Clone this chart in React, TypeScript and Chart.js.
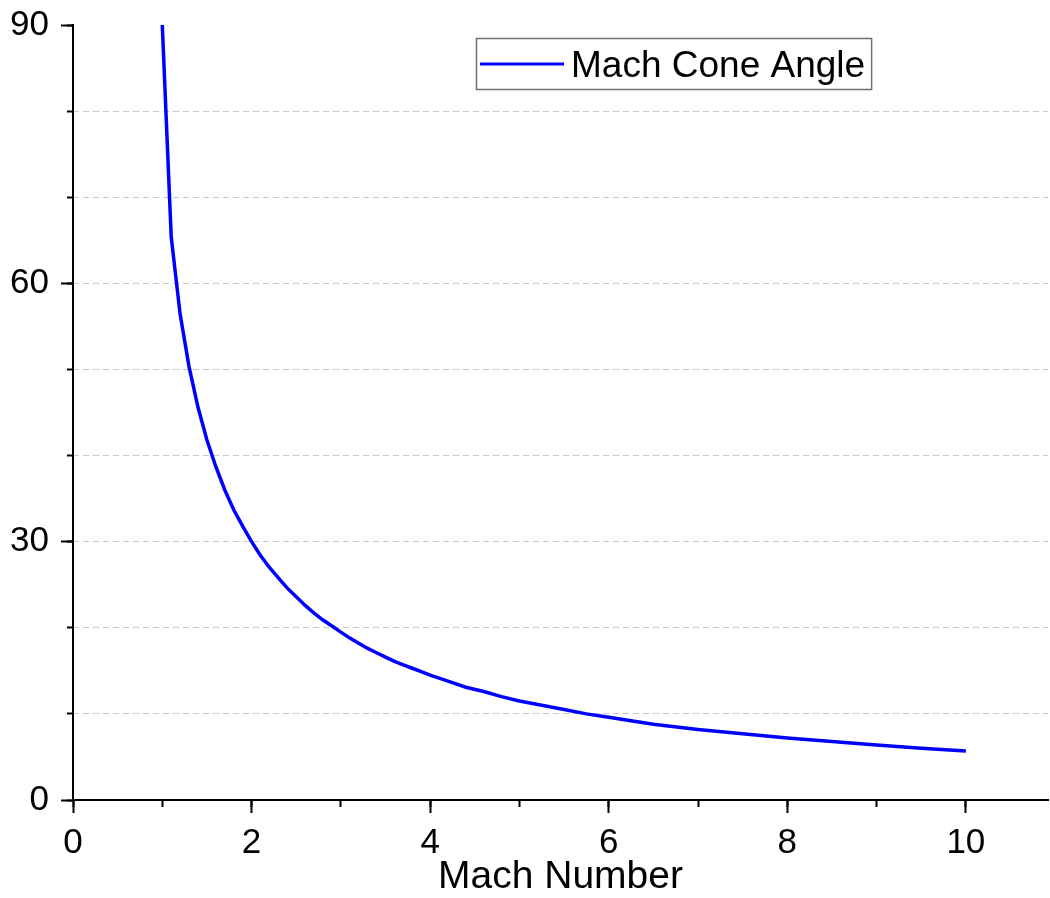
import React, { useEffect, useRef } from 'react';
import { Chart, registerables } from 'chart.js';

Chart.register(...registerables);

// Mach number (x) and cone angle in degrees (y)
const machNumbers = [
  1.0, 1.1, 1.2, 1.3, 1.4, 1.5, 1.6, 1.7, 1.8, 1.9,
  2.0, 2.1, 2.2, 2.3, 2.4, 2.5, 2.6, 2.7, 2.8, 2.9,
  3.0, 3.1, 3.2, 3.3, 3.4, 3.5, 3.6, 3.7, 3.8, 3.9,
  4.0, 4.2, 4.4, 4.6, 4.8, 5.0, 5.25, 5.5, 5.75, 6.0,
  6.5, 7.0, 7.5, 8.0, 8.5, 9.0, 9.5, 10.0,
];
const coneAngles = [
  90.0, 65.4, 56.4, 50.3, 45.6, 41.8, 38.7, 36.0, 33.7, 31.8,
  30.0, 28.4, 27.0, 25.8, 24.6, 23.6, 22.6, 21.7, 20.9, 20.2,
  19.5, 18.8, 18.2, 17.6, 17.1, 16.6, 16.1, 15.7, 15.3, 14.9,
  14.5, 13.8, 13.1, 12.6, 12.0, 11.5, 11.0, 10.5, 10.0, 9.6,
  8.8, 8.2, 7.7, 7.2, 6.8, 6.4, 6.0, 5.7,
];

const seriesLabel = 'Mach Cone Angle';
const xAxisTitle = 'Mach Number';
const xMin = 0;
const xMax = 10.92;
const xMajorStep = 2;
const xMinorStep = 1;
const yMin = 0;
const yMax = 90;
const yMajorStep = 30;
const yMinorStep = 10;

const FONT = 'Arial, "Liberation Sans", sans-serif';

const legendBoxPlugin = {
  id: 'legendBoxPlugin',
  afterDraw(chart: any) {
    const { ctx, chartArea } = chart;
    const ds = chart.data.datasets[0];
    const fontSize = 37;
    ctx.save();
    ctx.font = `${fontSize}px ${FONT}`;
    const tw = ctx.measureText(ds.label).width;
    const left = chartArea.left + 403;
    const top = chartArea.top + 13;
    const lineLen = 84;
    const w = 4 + lineLen + 7 + tw + 6;
    const h = 51;
    ctx.fillStyle = '#ffffff';
    ctx.fillRect(left, top, w, h);
    ctx.strokeStyle = '#707070';
    ctx.lineWidth = 1.5;
    ctx.strokeRect(left + 0.5, top + 0.5, w, h);
    ctx.strokeStyle = ds.borderColor;
    ctx.lineWidth = 3;
    ctx.beginPath();
    ctx.moveTo(left + 4, top + 26);
    ctx.lineTo(left + 4 + lineLen, top + 26);
    ctx.stroke();
    ctx.fillStyle = '#000000';
    ctx.textBaseline = 'alphabetic';
    ctx.textAlign = 'left';
    ctx.fillText(ds.label, left + 4 + lineLen + 7, top + 39);
    ctx.restore();
  },
};

export default function App() {
  const canvasRef = useRef<HTMLCanvasElement | null>(null);

  useEffect(() => {
    document.body.style.margin = '0';
    const canvas = canvasRef.current;
    if (!canvas) return;
    const points = machNumbers.map((m, i) => ({ x: m, y: coneAngles[i] }));

    const chart = new Chart(canvas, {
      type: 'line',
      data: {
        datasets: [
          {
            label: seriesLabel,
            data: points,
            borderColor: '#0000ff',
            backgroundColor: '#0000ff',
            borderWidth: 3.5,
            pointRadius: 0,
            fill: false,
            tension: 0,
            xAxisID: 'x',
            yAxisID: 'y',
          },
        ],
      },
      options: {
        responsive: false,
        animation: false,
        events: [],
        layout: { padding: { top: 25, right: 2, left: 0, bottom: 0 } },
        plugins: {
          legend: { display: false },
          tooltip: { enabled: false },
        },
        scales: {
          x: {
            type: 'linear',
            position: 'bottom',
            min: xMin,
            max: xMax,
            weight: 1,
            ticks: {
              stepSize: xMajorStep,
              includeBounds: false,
              autoSkip: false,
              maxRotation: 0,
              color: '#000',
              padding: 9,
              font: { size: 35, family: FONT },
            },
            grid: {
              drawOnChartArea: false,
              tickLength: 13,
              tickColor: '#000',
              tickWidth: 2,
            },
            border: { color: '#000', width: 2 },
            title: {
              display: true,
              text: xAxisTitle,
              color: '#000',
              padding: 0,
              font: { size: 39, family: FONT, lineHeight: 1.05 },
            },
            afterFit: (s: any) => {
              s.height = 98;
              s.paddingLeft = 0;
              s.paddingRight = 0;
            },
          },
          xMinor: {
            type: 'linear',
            position: 'bottom',
            min: xMin,
            max: xMax,
            weight: 0,
            ticks: { stepSize: xMinorStep, includeBounds: false, display: false, autoSkip: false },
            grid: {
              drawOnChartArea: false,
              tickLength: 7,
              tickColor: '#000',
              tickWidth: 2,
            },
            border: { display: false },
            afterFit: (s: any) => {
              s.height = 0;
              s.paddingLeft = 0;
              s.paddingRight = 0;
            },
          },
          y: {
            type: 'linear',
            position: 'left',
            min: yMin,
            max: yMax,
            weight: 1,
            ticks: {
              stepSize: yMajorStep,
              includeBounds: false,
              color: '#000',
              padding: 12,
              font: { size: 35, family: FONT },
            },
            grid: {
              drawOnChartArea: false,
              tickLength: 12,
              tickColor: '#000',
              tickWidth: 2,
            },
            border: { color: '#000', width: 2 },
            afterFit: (s: any) => {
              s.width = 73;
              s.paddingTop = 0;
              s.paddingBottom = 0;
            },
          },
          yMinor: {
            type: 'linear',
            position: 'left',
            min: yMin,
            max: yMax,
            weight: 0,
            ticks: { stepSize: yMinorStep, includeBounds: false, display: false },
            grid: {
              drawOnChartArea: true,
              color: (c: any) =>
                c.tick && (c.tick.value === yMin || c.tick.value === yMax)
                  ? 'rgba(0,0,0,0)'
                  : '#c8c8c8',
              lineWidth: 1,
              tickLength: 6,
              tickColor: '#000',
              tickWidth: 2,
            },
            border: { display: false, dash: [6, 4] },
            afterFit: (s: any) => {
              s.width = 0;
              s.paddingTop = 0;
              s.paddingBottom = 0;
            },
          },
        },
      } as any,
      plugins: [legendBoxPlugin],
    });

    return () => {
      chart.destroy();
    };
  }, []);

  return (
    <div style={{ width: 1050, height: 898, background: '#fff' }}>
      <canvas ref={canvasRef} width={1050} height={898} style={{ display: 'block' }} />
    </div>
  );
}
